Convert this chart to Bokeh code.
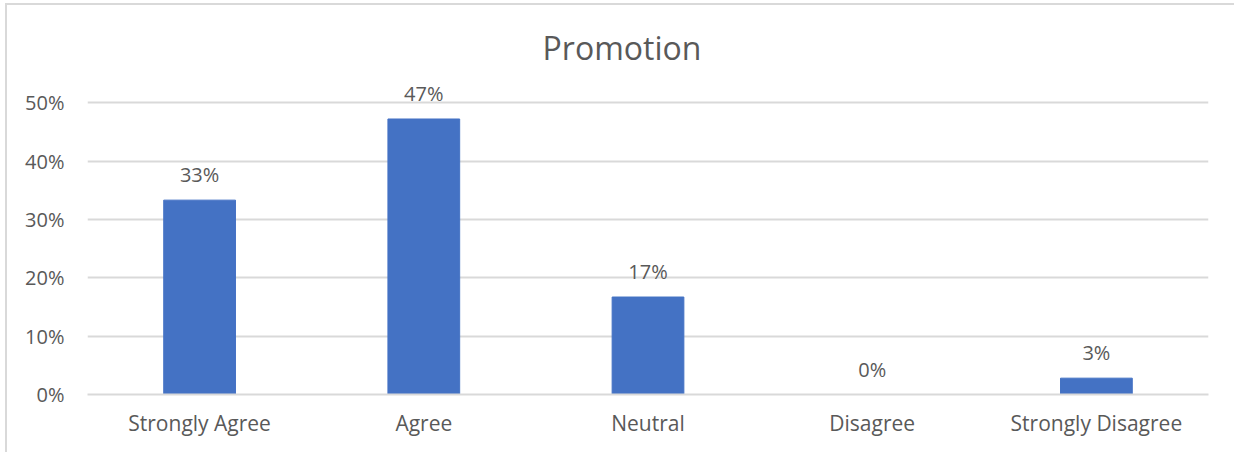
from bokeh.plotting import figure
from bokeh.models import (ColumnDataSource, FixedTicker, NumeralTickFormatter,
                          Range1d, LabelSet, Label)
from bokeh.core.properties import value
from bokeh.embed import file_html
from bokeh.resources import INLINE

categories = ["Strongly Agree", "Agree", "Neutral", "Disagree", "Strongly Disagree"]
values = [0.333, 0.472, 0.167, 0.0, 0.028]
y_ticks = [0.0, 0.1, 0.2, 0.3, 0.4, 0.5]
title_text = "Promotion"

labels = [f"{round(v * 100):.0f}%" for v in values]
source = ColumnDataSource(data=dict(cat=categories, val=values, lab=labels))

FONT = "Open Sans"
TXT = "#595959"
GRID = "#d9d9d9"

p = figure(x_range=categories, y_range=Range1d(0, 0.675), width=1234, height=452,
           output_backend="svg", toolbar_location=None,
           min_border_left=87, min_border_right=26, min_border_top=0,
           min_border_bottom=58)
p.border_fill_color = None
p.background_fill_color = None
p.styles = {"box-shadow": f"inset 5px 3px 0 0 #ffffff, inset 7px 5px 0 0 {GRID}",
            "background-color": "#ffffff"}

p.vbar(x="cat", top="val", width=0.32, source=source, color="#4472C4")

p.add_layout(LabelSet(x="cat", y="val", text="lab", source=source,
                      text_align="center", text_baseline="alphabetic",
                      y_offset=18, text_font=value(FONT), text_font_size=value("20px"),
                      text_color=TXT))

p.add_layout(Label(x=2.5, y=0.5945, text=title_text, x_offset=-26,
                   text_align="center", text_baseline="middle",
                   text_font=FONT, text_font_size="32px", text_color=TXT))

p.yaxis.ticker = FixedTicker(ticks=y_ticks)
p.yaxis.formatter = NumeralTickFormatter(format="0%")
p.yaxis.axis_line_color = None
p.yaxis.major_tick_line_color = None
p.yaxis.minor_tick_line_color = None
p.yaxis.major_tick_out = 0
p.yaxis.major_tick_in = 0
p.yaxis.major_label_standoff = 23
p.yaxis.major_label_text_font = FONT
p.yaxis.major_label_text_font_size = "20px"
p.yaxis.major_label_text_color = TXT

p.xaxis.axis_line_color = GRID
p.xaxis.axis_line_width = 2
p.xaxis.major_tick_line_color = None
p.xaxis.minor_tick_line_color = None
p.xaxis.major_tick_out = 0
p.xaxis.major_tick_in = 0
p.xaxis.major_label_standoff = 14
p.xaxis.major_label_text_font = FONT
p.xaxis.major_label_text_font_size = "21px"
p.xaxis.major_label_text_color = TXT

p.xgrid.grid_line_color = None
p.ygrid.grid_line_color = GRID
p.ygrid.grid_line_width = 2
p.outline_line_color = None

open("out.html", "w").write(file_html(p, INLINE))
